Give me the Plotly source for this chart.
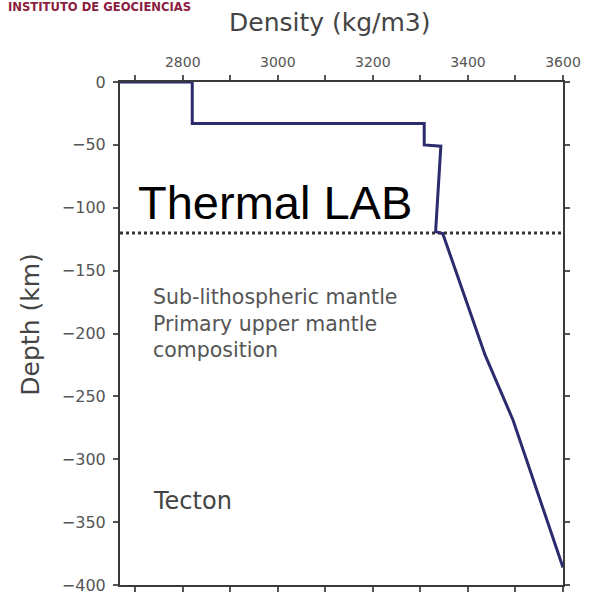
import plotly.graph_objects as go

density = [2668, 2820, 2820, 3308, 3308, 3343, 3332, 3347, 3436, 3495, 3600]
depth = [0, 0, -33, -33, -50, -51, -119, -120.5, -217, -269, -386]

lab_depth = -120
x_range = [2668, 3600]
y_range = [-400, 0]

x_tick_vals = [2700, 2800, 2900, 3000, 3100, 3200, 3300, 3400, 3500, 3600]
x_tick_text = ["", "2800", "", "3000", "", "3200", "", "3400", "", "3600"]
y_tick_vals = [0, -50, -100, -150, -200, -250, -300, -350, -400]
y_tick_text = ["0", "\u221250", "\u2212100", "\u2212150", "\u2212200", "\u2212250", "\u2212300", "\u2212350", "\u2212400"]

fig = go.Figure()
fig.add_trace(go.Scatter(x=x_range, y=[lab_depth, lab_depth], mode="lines",
                         line=dict(color="#333333", width=3, dash="dot"), hoverinfo="skip"))
fig.add_trace(go.Scatter(x=density, y=depth, mode="lines",
                         line=dict(color="#2b2b6e", width=3), cliponaxis=False))

axis_common = dict(showline=True, linecolor="#3a3a3a", linewidth=2, mirror="ticks",
                   ticks="outside", ticklen=5, tickcolor="#555555", tickwidth=1.5,
                   showgrid=False, zeroline=False)

fig.update_layout(
    width=590, height=604, margin=dict(l=120, r=27, t=82, b=9),
    paper_bgcolor="white", plot_bgcolor="white", showlegend=False,
    xaxis=dict(range=x_range, side="top", tickmode="array", tickvals=x_tick_vals,
               ticktext=x_tick_text, ticklabelstandoff=2,
               tickfont=dict(family="DejaVu Sans", size=14, color="#555555"), **axis_common),
    yaxis=dict(range=y_range, tickmode="array", tickvals=y_tick_vals,
               ticktext=y_tick_text, ticklabelstandoff=4,
               tickfont=dict(family="DejaVu Sans", size=16, color="#555555"), **axis_common),
)

fig.add_annotation(text="Density (kg/m3)", xref="paper", yref="paper", x=(330-120)/443, y=1,
                   yshift=76, showarrow=False,
                   font=dict(family="DejaVu Sans", size=25, color="#444444"))
fig.add_annotation(text="Depth (km)", xref="paper", yref="paper", x=0, xshift=-106,
                   y=(595-330)/513, textangle=-90, showarrow=False,
                   font=dict(family="DejaVu Sans", size=25, color="#444444"))
fig.add_annotation(text="Thermal LAB", x=2702, y=-96, xanchor="left", yanchor="middle",
                   showarrow=False, font=dict(family="Liberation Sans", size=47, color="black"))
fig.add_annotation(text="Sub-lithospheric mantle<br>Primary upper mantle<br>composition",
                   x=2733, y=-160, xanchor="left", yanchor="top", align="left",
                   showarrow=False, font=dict(family="DejaVu Sans", size=20.5, color="#555555"))
fig.add_annotation(text="Tecton", x=2733, y=-333.5, xanchor="left", yanchor="middle",
                   showarrow=False, font=dict(family="DejaVu Sans", size=24, color="#444444"))
fig.add_annotation(text="<b>INSTITUTO DE GEOCIENCIAS</b>", xref="paper", yref="paper",
                   x=-120/443, xshift=6, y=1, yshift=75, xanchor="left", yanchor="middle",
                   showarrow=False, font=dict(family="DejaVu Sans", size=11.6, color="#8b1d3f"))

fig.write_html("out.html")
